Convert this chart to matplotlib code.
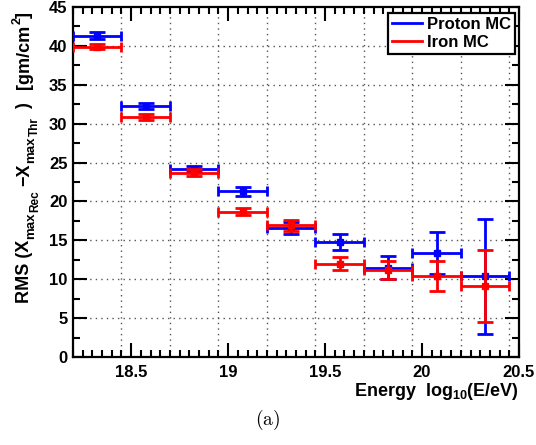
import matplotlib
matplotlib.use("Agg")
import matplotlib.pyplot as plt
from matplotlib.ticker import MultipleLocator, FixedLocator
import numpy as np

# ---- data ----
energy_centers = [18.325, 18.575, 18.825, 19.075, 19.325, 19.575, 19.825, 20.075, 20.325]
bin_half_width = 0.125
proton_rms = [41.3, 32.3, 24.2, 21.3, 16.6, 14.8, 11.5, 13.4, 10.4]
proton_err = [0.45, 0.4, 0.4, 0.55, 0.8, 1.0, 1.45, 2.7, 7.4]
iron_rms = [39.9, 30.9, 23.7, 18.7, 16.95, 12.0, 11.2, 10.4, 9.1]
iron_err = [0.35, 0.4, 0.45, 0.45, 0.7, 0.8, 1.2, 1.95, 4.6]
series_labels = ["Proton MC", "Iron MC"]
xtick_vals = [18.5, 19.0, 19.5, 20.0, 20.5]
xtick_labels = ["18.5", "19", "19.5", "20", "20.5"]
ytick_vals = [0, 5, 10, 15, 20, 25, 30, 35, 40, 45]

plt.rcParams['font.family'] = ['Liberation Sans', 'DejaVu Sans']
plt.rcParams['font.weight'] = 'bold'
plt.rcParams['mathtext.fontset'] = 'custom'
plt.rcParams['mathtext.rm'] = 'Liberation Sans:bold'
plt.rcParams['mathtext.bf'] = 'Liberation Sans:bold'
plt.rcParams['mathtext.it'] = 'Liberation Sans:bold'
plt.rcParams['mathtext.sf'] = 'Liberation Sans:bold'

W, H = 536, 445
fig = plt.figure(figsize=(W / 100, H / 100), dpi=100)
L, R, T, B = 73, 519, 7, 357
ax = fig.add_axes([L / W, 1 - B / H, (R - L) / W, (B - T) / H])

ax.set_xlim(18.2, 20.5)
ax.set_ylim(0, 45)

# grid: horizontal at y ticks, vertical at bin edges
for y in ytick_vals[1:-1]:
    ax.axhline(y, color='#555555', lw=1.0, ls=(0, (1, 3)), zorder=0)
edges = sorted(set([c + bin_half_width for c in energy_centers]))
for xe in edges:
    ax.axvline(xe, color='#555555', lw=1.0, ls=(0, (1, 3)), zorder=0)

xc = np.array(energy_centers)
for vals, errs, col, lab, z in [(proton_rms, proton_err, '#0000ff', series_labels[0], 3),
                                 (iron_rms, iron_err, '#ff0000', series_labels[1], 4)]:
    ax.errorbar(xc, vals, xerr=bin_half_width, fmt='none', ecolor=col,
                elinewidth=2.0, capsize=3.5, capthick=2.0, zorder=z)
    ax.errorbar(xc, vals, yerr=errs, fmt='s', color=col, ecolor=col, ms=4.5,
                elinewidth=2.0, capsize=6, capthick=2.0, zorder=z)
    ax.plot([], [], color=col, lw=2, label=lab)

ax.xaxis.set_major_locator(FixedLocator(xtick_vals))
ax.set_xticklabels(xtick_labels)
ax.xaxis.set_minor_locator(MultipleLocator(0.05))
ax.yaxis.set_major_locator(FixedLocator(ytick_vals))
ax.yaxis.set_minor_locator(MultipleLocator(2.5))
ax.tick_params(which='both', direction='in', top=True, right=True, width=1.5, labelsize=12)
ax.tick_params(which='major', length=10)
ax.tick_params(which='minor', length=5)
ax.tick_params(axis='x', which='major', pad=6)
ax.tick_params(axis='y', which='major', pad=4)
for lbl in ax.get_xticklabels() + ax.get_yticklabels():
    lbl.set_fontweight('bold')
for sp in ax.spines.values():
    sp.set_linewidth(1.6)

leg = ax.legend(loc='upper right', bbox_to_anchor=((515 - L) / (R - L), 1 - (13 - T) / (B - T)),
                borderaxespad=0, fancybox=False, framealpha=1, edgecolor='black',
                prop={'weight': 'bold', 'size': 12}, handlelength=1.8, handletextpad=0.3,
                borderpad=0.25, labelspacing=0.15)
leg.get_frame().set_linewidth(1.6)

# ---- y-axis title built from pieces (ROOT-style nested subscripts) ----
renderer = fig.canvas.get_renderer()
bx = 29  # baseline x in image pixels


def piece(txt, y_img_start, size, dx):
    t = fig.text((bx + dx) / W, 1 - y_img_start / H, txt, rotation=90,
                 rotation_mode='anchor', ha='left', va='baseline',
                 fontsize=size, fontweight='bold')
    ext = t.get_window_extent(renderer)
    return y_img_start - ext.height


y = piece("RMS (X", 303, 13, 0)
y = piece("max", y - 1, 9.5, 5)
y = piece("Rec", y, 8.5, 9)
y = piece("\u2212X", y - 4, 13, 0)
y = piece("max", y - 1, 9.5, 5)
y = piece("Thr", y, 8.5, 9)
y = piece(")", y - 9, 13, 0)
y = piece("[gm/cm", y - 14, 13, 0)
y = piece("2", y, 9, -8)
piece("]", y, 13, 0)

fig.text(R / W, 1 - 396 / H, r"Energy  log$_{\mathrm{10}}$(E/eV)", ha='right', va='baseline',
         fontsize=13, fontweight='bold')
fig.text(268 / W, 1 - 420 / H, r"$\mathrm{(a)}$", ha='center', va='center', fontsize=14,
         math_fontfamily='cm')

fig.savefig("out.png", dpi=100)
